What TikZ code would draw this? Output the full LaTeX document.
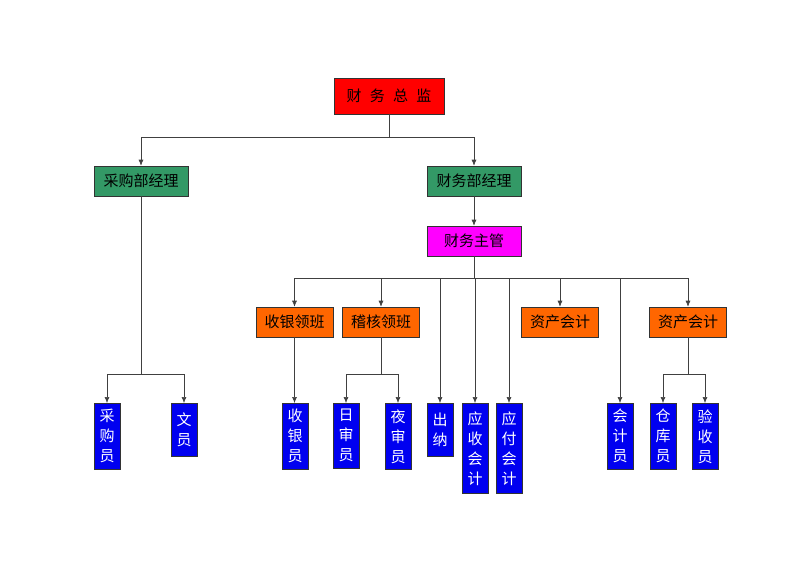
\documentclass[tikz,border=0pt]{standalone}
\usepackage{fontspec}
\newfontfamily\cjk{Noto Sans CJK SC}
\usepackage{xcolor}
\usepackage{tikz}
\usetikzlibrary{arrows.meta}

\definecolor{bossred}{HTML}{FF0000}
\definecolor{mgrgreen}{HTML}{339966}
\definecolor{headmag}{HTML}{FF00FF}
\definecolor{leadorange}{HTML}{FF6600}
\definecolor{staffblue}{HTML}{0000F0}

\begin{document}
\begin{tikzpicture}[x=1pt,y=-1pt,
  box/.style={draw=black!80, line width=0.6pt, inner sep=0pt,
    font=\cjk\fontsize{15}{20}\selectfont},
  topbox/.style={box, fill=bossred, minimum width=110, minimum height=36},
  mgrbox/.style={box, fill=mgrgreen, minimum width=94, minimum height=30},
  headbox/.style={box, fill=headmag, minimum width=94, minimum height=30},
  leadbox/.style={box, fill=leadorange, minimum width=77, minimum height=30},
  staffbox/.style={box, fill=staffblue, text=white, anchor=north, align=center,
    minimum width=26, inner ysep=6pt},
  conn/.style={draw=black!75, line width=0.6pt},
  arr/.style={conn, -{Latex[length=6pt,width=5pt]}}]
\useasboundingbox (0,0) rectangle (800,566);

% top levels
\node[topbox] (zongjian) at (389,96) {财\hspace{0.55em}务\hspace{0.55em}总\hspace{0.55em}监};
\node[mgrbox] (caigoujl) at (141,181) {采购部经理};
\node[mgrbox] (caiwujl) at (474,181) {财务部经理};
\node[headbox] (zhuguan) at (474,241) {财务主管};

% team leads
\node[leadbox] (shouyin) at (294.5,322) {收银领班};
\node[leadbox] (jihe) at (381,322) {稽核领班};
\node[leadbox] (zichanA) at (560,322) {资产会计};
\node[leadbox] (zichanB) at (688,322) {资产会计};

% staff
\node[staffbox] (caigouyuan) at (107,403) {采\\购\\员};
\node[staffbox, minimum height=53] (wenyuan) at (184,403) {文\\员};
\node[staffbox] (shouyinyuan) at (295,403) {收\\银\\员};
\node[staffbox] (rishen) at (346,403) {日\\审\\员};
\node[staffbox] (yeshen) at (398,403) {夜\\审\\员};
\node[staffbox, minimum height=53] (chuna) at (440,403) {出\\纳};
\node[staffbox, minimum height=90] (yingshou) at (475,403) {应\\收\\会\\计};
\node[staffbox, minimum height=90] (yingfu) at (509,403) {应\\付\\会\\计};
\node[staffbox] (kuaijiyuan) at (620,403) {会\\计\\员};
\node[staffbox] (cangku) at (663,403) {仓\\库\\员};
\node[staffbox] (yanshou) at (705,403) {验\\收\\员};

% connectors
\draw[arr] (zongjian.south) -- ++(0,23) -| (caigoujl.north);
\draw[arr] (zongjian.south) -- ++(0,23) -| (caiwujl.north);
\draw[arr] (caiwujl.south) -- (zhuguan.north);

\foreach \n in {shouyin,jihe,zichanA,zichanB,chuna,yingshou,yingfu,kuaijiyuan}
  \draw[arr] (zhuguan.south) -- ++(0,22) -| (\n.north);

\draw[arr] (caigoujl.south) -- ++(0,178) -| (caigouyuan.north);
\draw[arr] (caigoujl.south) -- ++(0,178) -| (wenyuan.north);
\draw[arr] (shouyin.south) -- (shouyin.south |- shouyinyuan.north);
\draw[arr] (jihe.south) -- ++(0,37) -| (rishen.north);
\draw[arr] (jihe.south) -- ++(0,37) -| (yeshen.north);
\draw[arr] (zichanB.south) -- ++(0,37) -| (cangku.north);
\draw[arr] (zichanB.south) -- ++(0,37) -| (yanshou.north);

\end{tikzpicture}
\end{document}
